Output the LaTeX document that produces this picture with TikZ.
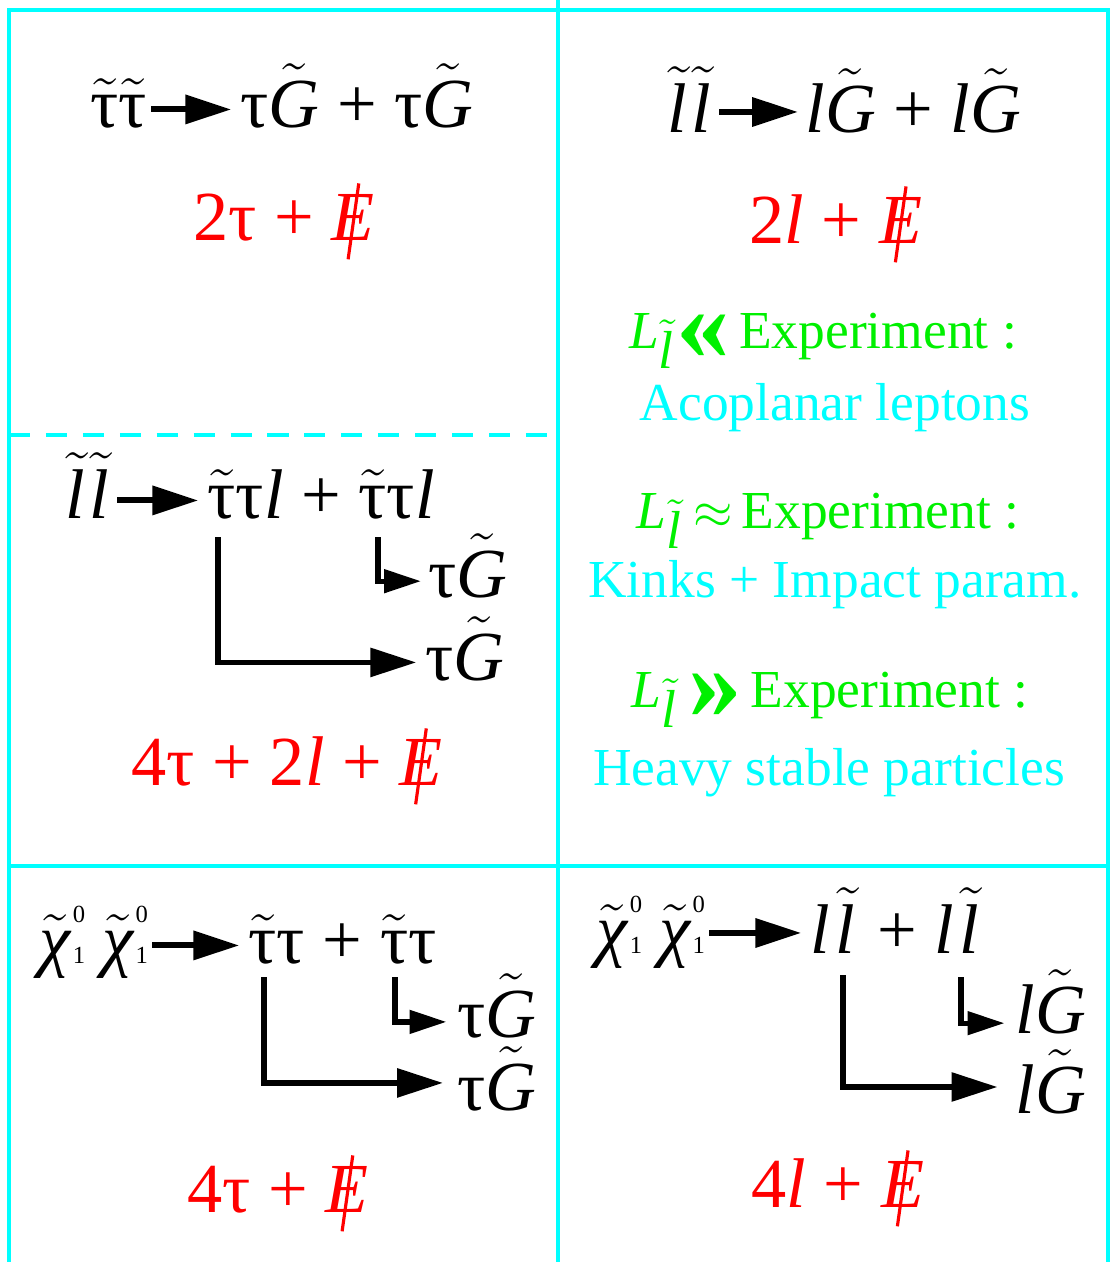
\documentclass[tikz,border=0pt]{standalone}
\usepackage{fontspec}
\setmainfont{Liberation Serif}
\usepackage{graphicx}
\definecolor{CELLcyan}{HTML}{00FFFF}
\definecolor{CONDgreen}{HTML}{00F000}
\definecolor{SIGred}{HTML}{FF0000}
\usetikzlibrary{arrows.meta, calc}

\newcommand\sv[1]{\ensuremath{\tilde{\hbox{#1}}}}
\newcommand\lep{\textit{l}}
\newcommand\slep{\sv{\itshape l\/\kern0.06em}}
\newcommand\stau{\sv{τ}}
\newcommand\grav{\sv{\itshape G}}
\newcommand\neut{\sv{\itshape χ}\kern0.03em\rlap{\raisebox{0.57em}{\fontsize{7}{7}\selectfont 0}}{\fontsize{7}{7}\selectfont 1}}
\newcommand\Emiss{\ooalign{\itshape E\cr\hidewidth\rotatebox[origin=c]{-8}{\rule[-0.28em]{0.045em}{1.09em}}\hidewidth\cr}}
\newcommand\Lsub{{\itshape L}\raisebox{-0.38em}{\slep}}
\newcommand\muchless{\raisebox{-0.22em}{\scalebox{2}{\bfseries «}}}
\newcommand\muchmore{\raisebox{-0.22em}{\scalebox{2}{\bfseries »}}}

\begin{document}
\begin{tikzpicture}[x=0.01cm, y=-0.01cm,
   cell/.style={CELLcyan, line width=1.2pt},
   halfline/.style={cell, dash pattern=on 6pt off 4.5pt},
   eq/.style={inner sep=0pt, font=\fontsize{20}{24}\selectfont},
   sig/.style={eq, text=SIGred},
   cond/.style={inner sep=0pt, font=\fontsize{15.2}{18}\selectfont, text=CONDgreen},
   note/.style={cond, text=CELLcyan},
   decay/.style={line width=1.7pt, -{Triangle[length=13pt,width=8pt]}},
   branch/.style={line width=1.5pt, -{Triangle[length=13pt,width=8pt]}},
   subbranch/.style={line width=1.5pt, -{Triangle[length=10.5pt,width=6.5pt]}}]
            \useasboundingbox (0,0) rectangle (1115,1262);
            % Cells
            \draw[cell] (9,1262) -- (9,10) -- (1108,10) -- (1108,1262);
            \draw[cell] (558,0) -- (558,1262);
            \draw[cell] (9,866) -- (1108,866);
            \draw[halfline] (9,435) -- (558,435);
            % Stau pair
            \node[eq, anchor=base west] (tl-in) at (90,127) {\stau\stau};
            \node[eq, anchor=base west] (tl-out) at (240,127) {τ\grav{} + τ\grav};
            \draw[decay] ([xshift=1pt,yshift=5pt]tl-in.base east) -- ([xshift=-2.5pt,yshift=5pt]tl-out.base west);
            \node[sig, anchor=base west] (tl-sig) at (193,240) {2τ + \Emiss};
            % Slepton pair
            \node[eq, anchor=base west] (tr-in) at (667,132) {\slep\slep};
            \node[eq, anchor=base west] (tr-out) at (805,132) {\lep\grav{} + \lep\grav};
            \draw[decay] ([xshift=1pt,yshift=5.7pt]tr-in.base east) -- ([xshift=-2pt,yshift=5.7pt]tr-out.base west);
            \node[sig, anchor=base west] (tr-sig) at (749,243) {2\lep{} + \Emiss};
            % Lifetime vs experiment
            \node[cond, anchor=base] (c-short) at (823,348) {\Lsub\muchless\,Experiment :};
            \node[note, anchor=base] (n-short) at (835,420) {Acoplanar leptons};
            \node[cond, anchor=base] (c-equal) at (828,528) {\Lsub\,{$\approx$}\,Experiment :};
            \node[note, anchor=base] (n-equal) at (835,597) {Kinks + Impact param.};
            \node[cond, anchor=base] (c-long) at (830,707) {\Lsub\,\muchmore\,Experiment :};
            \node[note, anchor=base] (n-long) at (829,785) {Heavy stable particles};
            % Slepton pair via stau
            \node[eq, anchor=base west] (ml-in) at (65,518) {\slep\slep};
            \node[eq, anchor=base west] (ml-out) at (207,518) {\stau τ\lep{} + \stau τ\lep};
            \draw[decay] ([xshift=1pt,yshift=5pt]ml-in.base east) -- ([xshift=-2.5pt,yshift=5pt]ml-out.base west);
            \node[eq, anchor=base west] (ml-p1) at (428,597) {τ\grav};
            \node[eq, anchor=base west] (ml-p2) at (425,680) {τ\grav};
            \coordinate (ml-b1) at (378,537);
            \coordinate (ml-b2) at (218,537);
            \draw[subbranch] (ml-b1) |- ([xshift=-2pt,yshift=4.5pt]ml-p1.base west);
            \draw[branch] (ml-b2) |- ([xshift=-2.5pt,yshift=5pt]ml-p2.base west);
            \node[sig, anchor=base west] (ml-sig) at (131,785) {4τ + 2\lep{} + \Emiss};
            % Neutralino pair to stau
            \node[eq, anchor=base west] (bl-in) at (39,963) {\neut\ \neut};
            \node[eq, anchor=base west] (bl-out) at (248,963) {\stau τ + \stau τ};
            \draw[decay] ([xshift=1pt,yshift=5pt]bl-in.base east) -- ([xshift=-2.5pt,yshift=5pt]bl-out.base west);
            \node[eq, anchor=base west] (bl-p1) at (457,1037) {τ\grav};
            \node[eq, anchor=base west] (bl-p2) at (457,1110) {τ\grav};
            \coordinate (bl-b1) at (395,977);
            \coordinate (bl-b2) at (264,977);
            \draw[subbranch] (bl-b1) |- ([xshift=-3pt,yshift=4.3pt]bl-p1.base west);
            \draw[branch] (bl-b2) |- ([xshift=-4pt,yshift=7.7pt]bl-p2.base west);
            \node[sig, anchor=base west] (bl-sig) at (187,1212) {4τ + \Emiss};
            % Neutralino pair to slepton
            \node[eq, anchor=base west] (br-in) at (596,953) {\neut\ \neut};
            \node[eq, anchor=base west] (br-out) at (810,953) {\lep\kern0.08em\slep{} + \lep\kern0.08em\slep};
            \draw[decay] ([xshift=1pt,yshift=5.7pt]br-in.base east) -- ([xshift=-2.5pt,yshift=5.7pt]br-out.base west);
            \node[eq, anchor=base west] (br-p1) at (1015,1033) {\lep\grav};
            \node[eq, anchor=base west] (br-p2) at (1015,1113) {\lep\grav};
            \coordinate (br-b1) at (961,977);
            \coordinate (br-b2) at (843,975);
            \draw[subbranch] (br-b1) |- ([xshift=-3pt,yshift=2.8pt]br-p1.base west);
            \draw[branch] (br-b2) |- ([xshift=-5pt,yshift=7.4pt]br-p2.base west);
            \node[sig, anchor=base west] (br-sig) at (751,1207) {4\lep{} + \Emiss};
         \end{tikzpicture}
\end{document}
